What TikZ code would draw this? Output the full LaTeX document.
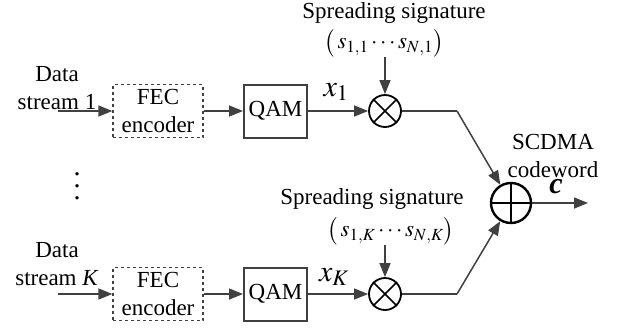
\documentclass[tikz,border=0pt]{standalone}
\usepackage{mathptmx}
\usepackage{fontspec}
\setmainfont{Liberation Serif}
\usetikzlibrary{arrows.meta,positioning}
\definecolor{wire}{HTML}{404040}

\begin{document}
\begin{tikzpicture}[x=1pt,y=-1pt,
  every node/.style={font=\fontsize{23}{28}\selectfont},
  txt/.style={align=center,inner sep=0pt},
  bigtxt/.style={inner sep=0pt,font=\fontsize{30}{30}\selectfont},
  fecbox/.style={draw=wire,dashed,line width=1.3pt,minimum width=90pt,minimum height=53pt,inner sep=0pt,align=center},
  qambox/.style={draw=wire,line width=2pt,minimum width=63pt,minimum height=53pt,inner sep=0pt},
  mixer/.style={circle,draw=black,line width=1.8pt,minimum size=32pt,inner sep=0pt},
  summer/.style={circle,draw=black,line width=2.4pt,minimum size=40pt,inner sep=0pt},
  arr/.style={-{Triangle[length=14pt,width=11pt]},draw=wire,fill=wire,line width=1.5pt},
  wireline/.style={draw=wire,line width=1.5pt}]
\useasboundingbox (0,0) rectangle (626,330);
% \draw[help lines] (0,0) grid[step=50] (626,330);
% stream 1
\node (d1) [txt] at (57,88) {Data\\stream 1};
\coordinate (in1) at (58,111);
\node (fec1) [fecbox] at (158,111) {FEC\\encoder};
\node (qam1) [qambox] at (275.5,111) {QAM};
\node (mul1) [mixer] at (385,111) {};
\draw[line width=1.5pt] (mul1.north west) -- (mul1.south east) (mul1.north east) -- (mul1.south west);
\node (sig1) [txt] at (394,13) {Spreading signature};
\node (seq1) [txt] at (384,43) {$\bigl(\,s_{1,1}\cdots s_{N,1}\bigr)$};
\node (x1) [bigtxt] at (336,92) {$x_1$};
\coordinate (b1) at (457,111);
%
\path[arr] (in1) -- (fec1);
\path[arr] (fec1) -- (qam1);
\path[arr] (qam1) -- (mul1);
\path[arr] (seq1.south -| mul1) -- (mul1);
% dots
\node (dots) [txt,font=\fontsize{28}{12}\selectfont] at (77,186) {.\\.\\.};
% stream K
\node (dK) [txt] at (57,264) {Data\\stream \textit{K}};
\coordinate (inK) at (58,294);
\node (fecK) [fecbox] at (158,294) {FEC\\encoder};
\node (qamK) [qambox] at (275.5,294) {QAM};
\node (mulK) [mixer] at (385,294) {};
\draw[line width=1.5pt] (mulK.north west) -- (mulK.south east) (mulK.north east) -- (mulK.south west);
\node (sigK) [txt] at (372,199) {Spreading signature};
\node (seqK) [txt] at (391,231) {$\bigl(\,s_{1,K}\cdots s_{N,K}\bigr)$};
\node (xK) [bigtxt] at (334,277) {$x_K$};
\coordinate (bK) at (457,294);
%
\path[arr] (inK) -- (fecK);
\path[arr] (fecK) -- (qamK);
\path[arr] (qamK) -- (mulK);
\path[arr] (seqK.south -| mulK) -- (mulK);
% adder
\node (add) [summer] at (511,203) {};
\draw[line width=2.4pt] (add.north) -- (add.south) (add.west) -- (add.east);
\node (cw) [txt] at (553,156) {SCDMA\\codeword};
\node (c) [bigtxt] at (556,187) {\textbf{\textit{c}}};
\coordinate (out) at (588,203);
%
\draw[wireline] (mul1) -- (b1);
\path[arr] (b1) -- (add);
\draw[wireline] (mulK) -- (bK);
\path[arr] (bK) -- (add);
\path[arr] (add) -- (out);
\end{tikzpicture}
\end{document}
